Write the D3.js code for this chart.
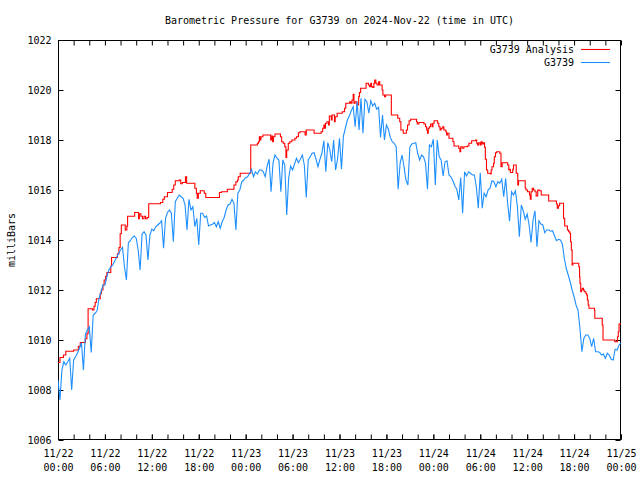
<!DOCTYPE html>
<html><head><meta charset="utf-8">
<script src="https://cdn.jsdelivr.net/npm/d3@7"></script>
<style>
html,body{margin:0;padding:0;background:#fff;}
svg{display:block;}
text{font-family:"DejaVu Sans Mono","Liberation Mono",monospace;font-size:10px;fill:#000;}
</style></head><body>
<svg id="chart" width="640" height="480"></svg>
<script>
const titleText = "Barometric Pressure for G3739 on 2024-Nov-22 (time in UTC)";
const yLabelText = "milliBars";
const seriesNames = ["G3739 Analysis", "G3739"];
const seriesColors = ["#ff0000", "#1e8fff"];
const startUTC = Date.UTC(2024, 10, 22, 0, 0);
const endUTC = Date.UTC(2024, 10, 25, 0, 0);
const yTicks = [1006, 1008, 1010, 1012, 1014, 1016, 1018, 1020, 1022];
const xMajorHours = [0, 6, 12, 18, 24, 30, 36, 42, 48, 54, 60, 66, 72];
const xMinorHours = [0,2,4,6,8,10,12,14,16,18,20,22,24,26,28,30,32,34,36,38,40,42,44,46,48,50,52,54,56,58,60,62,64,66,68,70,72];

// G3739 Analysis: [hours since 11/22 00:00 UTC, mb] (step changes)
const analysisSteps = [
[0,1009.1],[0.25,1009.3],[0.7,1009.4],[1.0,1009.55],[2.0,1009.6],[2.6,1009.75],[2.85,1009.9],
[3.5,1010.05],[3.7,1010.25],[3.85,1011.25],[4.4,1011.2],[4.6,1011.35],[4.75,1011.5],[4.9,1011.65],
[5.4,1011.85],[5.55,1012.0],[5.75,1012.2],[5.9,1012.4],[6.1,1012.55],[6.25,1012.7],[6.75,1012.95],
[6.85,1013.3],[7.6,1013.45],[7.8,1013.7],[7.95,1014.25],[8.1,1014.6],[8.6,1014.4],[8.8,1014.55],
[8.9,1014.95],[9.8,1015.1],[10.3,1014.85],[10.4,1015.05],[10.6,1014.95],[10.8,1014.85],[11.0,1014.95],
[11.2,1014.85],[11.4,1014.9],[11.6,1015.45],[13.1,1015.5],[13.4,1015.63],[13.6,1015.73],[14.0,1015.9],
[14.6,1016.03],[14.8,1016.2],[15.0,1016.37],[15.5,1016.4],[15.7,1016.25],[15.9,1016.3],[16.3,1016.53],
[16.45,1016.27],[17.5,1016.07],[17.7,1015.87],[17.8,1015.67],[17.95,1015.87],[18.2,1015.97],[18.7,1015.87],
[18.9,1015.7],[20.65,1015.9],[20.9,1015.93],[21.65,1016.03],[22.5,1016.2],[22.75,1016.33],[22.95,1016.4],
[23.05,1016.53],[23.3,1016.67],[24.65,1017.8],[25.5,1017.87],[25.65,1017.93],[25.75,1018.13],[25.85,1018.0],
[25.95,1018.13],[26.2,1018.2],[27.2,1018.0],[27.35,1018.16],[27.45,1017.93],[27.55,1018.13],[27.75,1018.24],
[28.45,1018.13],[28.6,1017.93],[28.8,1017.87],[29.0,1017.73],[29.15,1017.3],[29.25,1017.6],[29.45,1017.87],
[29.65,1017.93],[29.9,1018.0],[30.3,1018.07],[30.5,1018.13],[30.75,1018.29],[30.95,1018.33],[31.6,1018.2],
[31.75,1018.4],[32.75,1018.27],[33.65,1018.33],[33.85,1018.47],[34.0,1018.6],[34.1,1018.47],[34.2,1018.67],
[34.4,1018.73],[34.6,1018.6],[34.7,1018.96],[34.95,1018.8],[35.05,1019.0],[35.35,1018.73],[35.45,1018.93],
[35.7,1019.07],[36.35,1019.13],[36.65,1019.27],[36.8,1019.47],[37.3,1019.53],[37.45,1019.47],[37.6,1019.6],
[37.75,1019.83],[37.85,1019.47],[38.0,1019.53],[38.2,1019.4],[38.45,1019.73],[38.55,1019.9],[38.7,1020.07],
[39.4,1020.27],[39.7,1020.2],[39.85,1020.13],[40.0,1020.27],[40.1,1020.13],[40.25,1020.1],[40.4,1020.27],
[40.5,1020.4],[40.65,1020.27],[40.8,1020.2],[41.0,1020.33],[41.15,1020.2],[41.45,1020.0],[41.55,1019.8],
[41.75,1019.73],[41.9,1019.8],[42.63,1019.0],[43.45,1018.87],[43.7,1018.73],[43.85,1018.4],[44.15,1018.27],
[44.55,1018.4],[44.7,1018.6],[44.9,1018.77],[45.1,1018.83],[45.85,1018.73],[45.95,1018.64],[46.15,1018.7],
[46.8,1018.64],[47.0,1018.53],[47.15,1018.4],[47.25,1018.27],[47.35,1018.47],[47.5,1018.53],[47.65,1018.64],
[47.85,1018.53],[47.95,1018.67],[48.1,1018.77],[48.55,1018.67],[48.7,1018.53],[48.85,1018.4],[49.0,1018.47],
[49.2,1018.53],[49.35,1018.4],[49.6,1018.33],[49.7,1018.2],[49.8,1018.27],[50.0,1018.07],[50.5,1017.93],
[50.65,1017.76],[51.25,1017.67],[51.4,1017.53],[51.5,1017.73],[51.7,1017.67],[51.9,1017.73],[52.35,1017.76],
[52.55,1017.87],[52.9,1017.97],[53.4,1018.0],[53.55,1017.87],[53.65,1017.8],[53.8,1017.89],[54.0,1017.8],
[54.1,1017.93],[54.25,1017.84],[54.4,1017.89],[54.55,1017.71],[54.65,1017.23],[54.8,1016.8],[54.95,1016.67],
[55.3,1016.64],[55.4,1016.8],[55.5,1016.93],[55.7,1017.07],[55.8,1017.33],[55.95,1017.49],[56.1,1017.53],
[56.5,1017.47],[56.65,1016.93],[56.8,1017.09],[57.5,1017.0],[57.65,1016.8],[57.75,1016.83],[57.85,1016.7],
[58.15,1016.83],[58.25,1017.0],[58.6,1016.67],[58.8,1016.2],[58.9,1016.37],[59.75,1016.07],[59.85,1016.0],
[60.05,1015.93],[60.3,1015.8],[60.4,1015.63],[60.5,1015.93],[60.65,1016.07],[60.8,1016.0],[61.0,1015.93],
[61.15,1015.76],[61.35,1016.0],[61.55,1015.97],[61.8,1015.8],[62.75,1015.56],[63.75,1015.44],[63.85,1015.27],
[64.0,1015.37],[64.15,1015.47],[64.65,1014.87],[64.8,1014.56],[65.15,1014.4],[65.3,1014.33],[65.45,1014.27],
[65.55,1013.93],[65.65,1013.6],[65.75,1013.0],[65.85,1013.07],[66.6,1012.93],[66.7,1012.53],[66.75,1012.27],
[66.85,1011.93],[66.95,1012.0],[67.05,1012.07],[67.2,1012.0],[67.3,1011.93],[67.5,1011.87],[67.6,1011.8],
[67.7,1011.6],[67.8,1011.4],[67.9,1011.27],[68.6,1011.2],[68.65,1010.87],[69.6,1010.6],[69.7,1010.0],
[71.2,1009.93],[71.55,1010.13],[71.65,1010.33],[71.75,1010.64],[72.0,1010.67]
];

// G3739 station: one value every 15 minutes from 11/22 00:00 UTC (one row per hour)
const stationStepHours = 0.25;
const stationValues = [
1008.4,1007.6,1008.8,1009.13,
1009.0,1009.13,1009.27,1008.0,
1009.2,1009.33,1009.49,1009.67,
1009.89,1008.8,1010.23,1010.4,
1010.53,1009.5,1011.0,1011.07,
1011.17,1011.67,1011.93,1012.2,
1012.2,1012.53,1012.8,1012.93,
1013.0,1013.16,1013.31,1013.47,
1013.6,1013.71,1012.93,1012.4,
1013.89,1013.97,1014.1,1014.16,
1014.07,1013.6,1012.8,1014.23,
1014.33,1014.2,1013.2,1014.2,
1014.43,1014.37,1014.53,1014.6,
1014.67,1014.77,1013.67,1014.87,
1015.1,1015.2,1015.07,1013.93,
1015.53,1015.67,1015.8,1015.73,
1015.67,1015.4,1014.4,1015.63,
1015.2,1015.33,1014.53,1014.87,
1013.8,1015.07,1015.07,1014.9,
1014.96,1014.56,1014.6,1014.63,
1014.7,1014.53,1014.73,1014.47,
1014.73,1014.9,1015.2,1015.4,
1015.44,1015.63,1015.47,1014.4,
1015.87,1016.0,1016.33,1016.4,
1016.49,1016.53,1016.67,1016.83,
1016.53,1016.73,1016.64,1016.8,
1016.8,1016.73,1016.53,1016.96,
1017.23,1015.93,1017.09,1017.4,
1017.27,1017.2,1015.93,1017.2,
1017.0,1015.0,1016.47,1016.96,
1016.8,1017.04,1017.27,1017.09,
1017.23,1017.4,1017.0,1015.7,
1017.2,1017.33,1017.47,1017.49,
1017.23,1016.93,1017.23,1017.47,
1017.97,1016.73,1017.89,1017.63,
1017.13,1018.0,1016.8,1017.23,
1018.07,1016.83,1018.16,1018.47,
1018.8,1018.96,1019.17,1019.33,
1018.53,1019.53,1018.4,1019.67,
1018.27,1019.63,1019.53,1019.07,
1019.57,1019.36,1019.47,1019.23,
1019.31,1018.1,1019.0,1018.0,
1018.6,1018.43,1018.1,1017.93,
1017.87,1017.73,1016.03,1017.07,
1017.4,1016.93,1016.4,1016.2,
1017.71,1017.84,1017.87,1017.89,
1017.47,1017.2,1017.4,1017.33,
1017.07,1016.03,1017.8,1017.73,
1018.03,1016.2,1018.0,1017.33,
1017.2,1016.56,1017.13,1017.17,
1016.6,1016.53,1016.37,1016.16,
1016.03,1015.6,1016.5,1015.07,
1016.73,1016.56,1016.73,1016.67,
1016.6,1016.6,1016.13,1015.27,
1016.69,1015.27,1015.87,1015.73,
1016.0,1016.07,1016.37,1016.33,
1016.13,1016.33,1016.27,1016.43,
1015.73,1016.47,1015.47,1014.75,
1015.93,1015.8,1015.97,1015.33,
1014.13,1015.4,1015.17,1014.83,
1015.04,1014.6,1013.9,1014.8,
1015.17,1013.73,1014.77,1014.64,
1014.6,1014.29,1014.4,1014.4,
1014.35,1014.37,1014.16,1013.97,
1014.03,1014.0,1013.84,1013.27,
1012.87,1012.6,1012.33,1012.0,
1011.73,1011.4,1011.2,1010.47,
1009.53,1010.07,1010.2,1010.2,
1010.07,1009.73,1010.07,1009.53,
1009.53,1009.51,1009.4,1009.44,
1009.27,1009.47,1009.4,1009.23,
1009.2,1009.63,1009.6,1009.8,
1009.89
];

(function () {
const HOUR = 3600e3;
const pL = 58, pR = 621, pT = 40, pB = 440;
const svg = d3.select("#chart");
const FONT = "DejaVu Sans Mono, Liberation Mono, monospace";

const x = d3.scaleUtc().domain([new Date(startUTC), new Date(endUTC)]).range([pL, pR]);
const y = d3.scaleLinear().domain([1006, 1022]).range([pB, pT]);
const hToDate = h => new Date(startUTC + h * HOUR);

svg.append("text").attr("x", (pL + pR) / 2).attr("y", 24)
  .attr("text-anchor", "middle").text(titleText);
svg.append("text").attr("transform", "translate(15,240) rotate(-90)")
  .attr("text-anchor", "middle").text(yLabelText);

function styleAxis(g) {
  g.select(".domain").remove();
  g.attr("font-family", FONT).attr("font-size", 10);
  g.selectAll(".tick line").attr("stroke", "#000");
}

svg.append("g").attr("transform", `translate(${pL + 0.5},0)`)
  .call(d3.axisLeft(y).tickValues(yTicks).tickSizeInner(-5).tickSizeOuter(0).tickPadding(7).tickFormat(d3.format("d")))
  .call(styleAxis);
svg.append("g").attr("transform", `translate(${pR - 0.5},0)`)
  .call(d3.axisRight(y).tickValues(yTicks).tickSizeInner(-5).tickSizeOuter(0).tickFormat(""))
  .call(styleAxis);

const minorDates = xMinorHours.map(hToDate);
const majorDates = xMajorHours.map(hToDate);
svg.append("g").attr("transform", `translate(0,${pB - 0.5})`)
  .call(d3.axisBottom(x).tickValues(minorDates).tickSizeInner(-5).tickSizeOuter(0).tickFormat(""))
  .call(styleAxis);
svg.append("g").attr("transform", `translate(0,${pT + 0.5})`)
  .call(d3.axisTop(x).tickValues(minorDates).tickSizeInner(-5).tickSizeOuter(0).tickFormat(""))
  .call(styleAxis);
const fmtDay = d3.utcFormat("%m/%d"), fmtTime = d3.utcFormat("%H:%M");
const gx = svg.append("g").attr("transform", `translate(0,${pB - 0.5})`)
  .call(d3.axisBottom(x).tickValues(majorDates).tickSizeInner(-5).tickSizeOuter(0).tickFormat(fmtDay))
  .call(styleAxis);
gx.selectAll(".tick text").each(function (d) {
  const t = d3.select(this);
  t.text(null).attr("dy", null).attr("y", null);
  t.append("tspan").attr("x", 0).attr("y", 17).text(fmtDay(d));
  t.append("tspan").attr("x", 0).attr("y", 31).text(fmtTime(d));
});

svg.append("rect").attr("x", pL + 0.5).attr("y", pT + 0.5)
  .attr("width", pR - pL - 1).attr("height", pB - pT - 1)
  .attr("fill", "none").attr("stroke", "#000").attr("stroke-width", 1);

svg.append("clipPath").attr("id", "plotclip").append("rect")
  .attr("x", pL).attr("y", pT).attr("width", pR - pL).attr("height", pB - pT);

const analysisData = analysisSteps.map(([h, v]) => ({ t: hToDate(h), v }));
const stationData = stationValues.map((v, i) => ({ t: hToDate(i * stationStepHours), v }));

const stepLine = d3.line().x(d => x(d.t)).y(d => y(d.v)).curve(d3.curveStepAfter);
const plainLine = d3.line().x(d => x(d.t)).y(d => y(d.v));

const plot = svg.append("g").attr("clip-path", "url(#plotclip)");
plot.append("path").datum(analysisData).attr("d", stepLine)
  .attr("fill", "none").attr("stroke", seriesColors[0]).attr("stroke-width", 1.1);
plot.append("path").datum(stationData).attr("d", plainLine)
  .attr("fill", "none").attr("stroke", seriesColors[1]).attr("stroke-width", 1.1);

const legend = svg.append("g");
seriesNames.forEach((name, i) => {
  const yy = 53 + i * 13;
  legend.append("text").attr("x", 574).attr("y", yy).attr("text-anchor", "end").text(name);
  legend.append("line").attr("x1", 581).attr("x2", 610).attr("y1", yy - 3.5).attr("y2", yy - 3.5)
    .attr("stroke", seriesColors[i]).attr("stroke-width", 1.1);
});
})();
</script>
</body></html>
